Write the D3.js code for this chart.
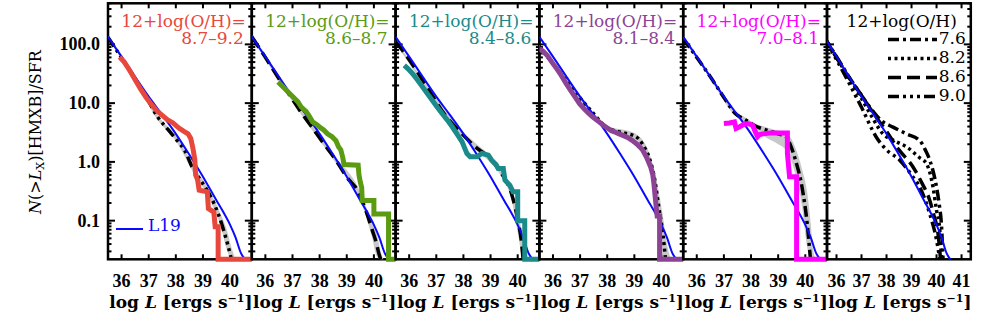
<!DOCTYPE html>
<html>
<head>
<meta charset="utf-8">
<script src="https://cdnjs.cloudflare.com/ajax/libs/d3/7.8.5/d3.min.js"></script>
<style>
body { margin: 0; background: #fff; }
svg { display: block; }
</style>
</head>
<body>
<svg id="chart" width="981" height="319"></svg>
<script>
// metallicity bins, one per panel (last panel = models only)
var binLabels = ["8.7\u20139.2", "8.6\u20138.7", "8.4\u20138.6", "8.1\u20138.4", "7.0\u20138.1"];
var binColors = ["#e8473b", "#5a9b11", "#1a8b8a", "#8c4396", "#ff00ff"];
var binModel = ["9.0", "8.6", "8.6", "8.2", "7.6"];
var legendZ = ["7.6", "8.2", "8.6", "9.0"];
var xTicks = [36, 37, 38, 39, 40];
var xTicksLast = [36, 37, 38, 39, 40, 41];
var yTicks = [0.1, 1, 10, 100];

// L19 reference XLF  [log L, N(>L)/SFR]
var l19 = [[35.5, 135], [36.0, 62], [36.5, 28], [37.0, 12.9], [37.5, 6.3], [38.0, 3.0], [38.5, 1.32],
    [39.0, 0.56], [39.5, 0.22], [39.75, 0.14], [40.0, 0.085], [40.2, 0.052], [40.4, 0.028], [40.55, 0.016]];

// observed cumulative XLFs (histogram outline vertices), 0 = dropped to the floor
var obs1 = [[35.93, 61], [36.1, 50], [36.3, 36], [36.5, 25], [36.7, 17.4], [36.9, 12.6], [37.1, 9.5], [37.3, 7.4],
    [37.5, 6.2], [37.7, 5.2], [37.9, 4.6], [38.1, 3.8], [38.3, 3.3], [38.45, 3.0], [38.55, 2.5], [38.62, 1.8],
    [38.7, 1.1], [38.73, 0.6], [38.8, 0.5], [38.86, 0.33], [39.16, 0.31], [39.2, 0.16], [39.4, 0.14],
    [39.45, 0.079], [39.56, 0.079], [39.56, 0], [41.5, 0]];
var obs2 = [[36.47, 23], [36.6, 20], [36.75, 17], [36.9, 14.5], [37.05, 12.3], [37.2, 10.5], [37.32, 8.6], [37.5, 7.2],
    [37.6, 6.2], [37.74, 4.8], [37.9, 4.3], [38.0, 3.9], [38.15, 3.5], [38.29, 3.0], [38.45, 2.7], [38.6, 2.3],
    [38.7, 1.8], [38.78, 1.6], [38.85, 1.2], [38.9, 0.9], [39.42, 0.88], [39.45, 0.6], [39.5, 0.45], [39.55, 0.37],
    [39.57, 0.22], [40.0, 0.22], [40.0, 0.13], [40.54, 0.13], [40.54, 0], [41.5, 0]];
var obs3 = [[35.82, 44], [35.97, 38], [36.12, 32], [36.3, 25], [36.49, 19], [36.67, 14.5], [36.85, 11.2], [37.03, 8.6],
    [37.22, 6.6], [37.4, 5.2], [37.58, 4.0], [37.76, 3.0], [37.95, 2.2], [38.05, 1.7], [38.13, 1.39], [38.25, 1.22],
    [38.5, 1.22], [38.68, 1.39], [38.92, 1.3], [39.04, 1.07], [39.2, 0.9], [39.28, 0.77], [39.47, 0.77], [39.53, 0.49],
    [39.71, 0.4], [39.83, 0.31], [40.0, 0.31], [40.0, 0.1], [40.26, 0.1], [40.26, 0], [41.5, 0]];
var obs4 = [[35.5, 85], [35.65, 75], [35.8, 64], [36.0, 47], [36.15, 38], [36.3, 30], [36.5, 21], [36.65, 16.5],
    [36.8, 13], [36.98, 9.8], [37.15, 8.0], [37.3, 6.8], [37.47, 5.8], [37.65, 5.0], [37.8, 4.4], [37.96, 3.9],
    [38.15, 3.4], [38.3, 3.2], [38.44, 3.0], [38.6, 2.8], [38.75, 2.6], [38.93, 2.3], [39.1, 2.0], [39.2, 1.8],
    [39.3, 1.6], [39.45, 1.2], [39.6, 0.82], [39.68, 0.6], [39.72, 0.43], [39.78, 0.22], [39.84, 0.12],
    [39.93, 0.12], [39.93, 0], [41.5, 0]];
var obs5 = [[37.0, 4.5], [37.2, 4.6], [37.39, 4.8], [37.45, 3.7], [37.6, 4.0], [37.72, 4.3], [37.88, 4.5], [38.06, 4.2],
    [38.15, 3.3], [38.24, 2.7], [38.3, 2.9], [38.42, 3.0], [38.7, 3.1], [39.34, 3.1], [39.34, 1.4], [39.42, 0.56],
    [39.68, 0.56], [39.68, 0], [41.5, 0]];

// model curves for each bin  [log L, N]
var model1 = [[35.5, 132], [36.0, 59], [36.5, 26], [37.0, 10.7], [37.32, 5.9], [37.7, 3.6], [38.05, 2.3], [38.35, 1.5],
    [38.6, 0.82], [38.9, 0.5], [39.15, 0.33], [39.4, 0.2], [39.65, 0.1], [39.8, 0.06], [39.9, 0.041], [40.05, 0.018]];
var model2 = [[35.5, 135], [36.0, 60], [36.5, 26], [37.0, 11.5], [37.26, 7.6], [37.7, 4.0], [38.1, 2.2], [38.6, 1.07],
    [39.0, 0.55], [39.46, 0.29], [39.7, 0.15], [39.94, 0.069], [40.1, 0.04], [40.18, 0.028], [40.25, 0.018]];
var model3 = [[35.5, 112], [36.0, 55], [36.73, 16.6], [37.3, 6.5], [37.95, 3.0], [38.44, 1.8], [38.93, 1.2],
    [39.41, 0.63], [39.77, 0.29], [40.01, 0.1], [40.13, 0.047], [40.2, 0.02]];
var model4 = [[35.5, 91], [36.0, 47], [36.5, 24], [36.98, 12.6], [37.5, 6.6], [37.96, 3.9], [38.5, 3.2], [39.05, 2.7],
    [39.3, 2.0], [39.54, 1.2], [39.75, 0.5], [39.9, 0.17], [40.05, 0.06], [40.15, 0.02]];
var model5 = [[35.5, 126], [36.0, 60], [36.5, 28], [37.0, 12.5], [37.4, 6.8], [37.82, 5.1], [38.2, 4.0], [38.55, 3.5],
    [39.0, 3.0], [39.28, 2.7], [39.5, 1.7], [39.64, 1.07], [39.88, 0.37], [40.07, 0.089], [40.19, 0.02]];

// model uncertainty bands  [log L, low, high]
var band1 = [[35.5, 125, 140], [36.5, 24, 28], [37.3, 5.4, 6.5], [38.05, 2.1, 2.6], [38.6, 0.72, 0.95],
    [39.15, 0.28, 0.38], [39.65, 0.08, 0.13], [39.9, 0.03, 0.065], [40.05, 0.012, 0.035], [40.2, 0.01, 0.015]];
var band2 = [[35.5, 125, 145], [36.5, 24, 28], [37.26, 7, 8.3], [38.1, 2.0, 2.45], [38.6, 0.95, 1.2],
    [39.46, 0.25, 0.34], [39.94, 0.05, 0.09], [40.1, 0.025, 0.06], [40.25, 0.01, 0.03], [40.35, 0.01, 0.015]];
var band3 = [[35.5, 105, 120], [36.73, 15.5, 18], [37.95, 2.7, 3.4], [38.44, 1.6, 2.1], [38.93, 1.05, 1.35],
    [39.41, 0.55, 0.72], [39.77, 0.23, 0.36], [40.01, 0.06, 0.14], [40.2, 0.01, 0.05], [40.35, 0.01, 0.015]];
var band4 = [[35.5, 85, 98], [36.5, 22, 26], [36.98, 11.5, 13.8], [37.96, 3.6, 4.3], [39.05, 2.4, 3.0],
    [39.54, 1.0, 1.45], [39.75, 0.35, 0.7], [39.9, 0.09, 0.3], [40.05, 0.025, 0.12], [40.2, 0.01, 0.04], [40.35, 0.01, 0.015]];
var band5 = [[35.5, 118, 134], [36.5, 26, 30], [37.4, 6.2, 7.4], [37.82, 4.5, 5.6], [38.2, 3.3, 4.4], [38.55, 2.6, 3.9],
    [39.0, 2.0, 3.4], [39.28, 1.6, 3.2], [39.5, 1.0, 2.4], [39.64, 0.6, 1.7], [39.88, 0.17, 0.75], [40.07, 0.035, 0.3],
    [40.2, 0.01, 0.09], [40.3, 0.01, 0.03], [40.4, 0.01, 0.015]];

// last panel: models at fixed metallicity
var zModel76 = [[35.5, 135], [36.0, 62], [36.5, 28], [37.0, 13.5], [37.33, 8.6], [37.8, 5.0], [38.26, 3.9], [38.8, 3.0],
    [39.33, 2.3], [39.55, 1.6], [39.73, 1.07], [40.0, 0.37], [40.1, 0.2], [40.2, 0.079], [40.26, 0.02]];
var zModel82 = [[35.5, 135], [36.0, 60], [36.5, 27], [37.0, 12], [37.4, 6], [37.86, 3.0], [38.3, 2.3], [38.8, 1.8],
    [39.3, 1.2], [39.6, 0.93], [39.86, 0.37], [40.0, 0.15], [40.13, 0.069], [40.2, 0.02]];
var zModel86 = [[35.5, 135], [36.0, 60], [36.5, 27], [36.93, 15], [37.5, 6.5], [38.0, 3.3], [38.5, 1.6], [39.06, 0.82],
    [39.4, 0.45], [39.73, 0.22], [39.9, 0.12], [40.06, 0.06], [40.16, 0.02]];
var zModel90 = [[35.5, 130], [36.0, 55], [36.5, 22], [37.0, 8.5], [37.6, 2.6], [38.0, 1.6], [38.53, 1.07], [39.0, 0.6],
    [39.33, 0.37], [39.73, 0.13], [40.0, 0.047], [40.13, 0.02]];

var obsAll = [obs1, obs2, obs3, obs4, obs5];
var modelAll = [model1, model2, model3, model4, model5];
var bandAll = [band1, band2, band3, band4, band5];
var zModels = [zModel76, zModel82, zModel86, zModel90];

var dashes = {"7.6": "11,4,3,4", "8.2": "3,3.5", "8.6": "13,6", "9.0": "11,4,3,4,3,4,3,4"};
var blue = "#0a0aff";

var svg = d3.select("#chart");
var left0 = 108, panelW = 143.8, yTop = 3.3, yBot = 259.3;
var yMin = 0.022, yMax = 500;
var y = d3.scaleLog().domain([yMin, yMax]).range([yBot, yTop]);
var yc = function(v) { return y(Math.max(v, yMin)); };

var serif = "'Liberation Serif', serif";
var dvs = "'DejaVu Serif', serif";

// minor y tick values
var yMinor = [];
[0.01, 0.1, 1, 10, 100].forEach(function(d) {
    for (var k = 2; k <= 9; k++) {
        var v = k * d;
        if (v >= yMin && v <= yMax) yMinor.push(v);
    }
});

for (var i = 0; i < 6; i++) {
    var x0 = left0 + i * panelW, x1 = x0 + panelW;
    var last = i === 5;
    var x = d3.scaleLinear().domain(last ? [35.62, 41.37] : [35.5, 40.8]).range([x0, x1]);
    var g = svg.append("g");

    svg.append("clipPath").attr("id", "clip" + i)
        .append("rect").attr("x", x0).attr("y", yTop).attr("width", panelW).attr("height", yBot - yTop + 3);

    // frame and ticks
    g.append("rect").attr("x", x0).attr("y", yTop).attr("width", panelW).attr("height", yBot - yTop)
        .attr("fill", "none").attr("stroke", "#000").attr("stroke-width", 2.5);
    var ticks = last ? xTicksLast : xTicks;
    ticks.forEach(function(t) {
        g.append("line").attr("x1", x(t)).attr("x2", x(t)).attr("y1", yBot).attr("y2", yBot - 5)
            .attr("stroke", "#000").attr("stroke-width", 2);
        g.append("line").attr("x1", x(t)).attr("x2", x(t)).attr("y1", yTop).attr("y2", yTop + 5)
            .attr("stroke", "#000").attr("stroke-width", 2);
    });
    yTicks.concat(yMinor).forEach(function(v) {
        var len = yTicks.indexOf(v) >= 0 ? 7 : 3.5;
        g.append("line").attr("x1", x0).attr("x2", x0 + len).attr("y1", y(v)).attr("y2", y(v))
            .attr("stroke", "#000").attr("stroke-width", 2);
        g.append("line").attr("x1", x1).attr("x2", x1 - len).attr("y1", y(v)).attr("y2", y(v))
            .attr("stroke", "#000").attr("stroke-width", 2);
    });

    g.selectAll(".xt").data(ticks).enter().append("text")
        .attr("x", function(d) { return x(d); }).attr("y", 286.7)
        .attr("text-anchor", "middle")
        .style("font-family", serif).style("font-weight", "bold").style("font-size", "18px")
        .text(function(d) { return d; });

    var xt = g.append("text").attr("x", x0 + panelW / 2 + 1).attr("y", 308)
        .attr("text-anchor", "middle")
        .style("font-family", dvs).style("font-weight", "bold").style("font-size", "17px");
    xt.append("tspan").text("log ");
    xt.append("tspan").style("font-style", "italic").text("L");
    xt.append("tspan").text(" [ergs s");
    xt.append("tspan").attr("dy", -6).style("font-size", "11px").text("\u22121");
    xt.append("tspan").attr("dy", 6).text("]");

    var pg = g.append("g").attr("clip-path", "url(#clip" + i + ")");
    var line = d3.line().x(function(d) { return x(d[0]); }).y(function(d) { return yc(d[1]); })
        .curve(d3.curveMonotoneX);

    if (!last) {
        var area = d3.area().x(function(d) { return x(d[0]); })
            .y0(function(d) { return yc(d[1]); }).y1(function(d) { return yc(d[2]); })
            .curve(d3.curveMonotoneX);
        pg.append("path").attr("d", area(bandAll[i])).attr("fill", "#c8c8c8");
        pg.append("path").attr("d", line(modelAll[i])).attr("fill", "none")
            .attr("stroke", "#000").attr("stroke-width", 3.5)
            .attr("stroke-dasharray", dashes[binModel[i]]);
        pg.append("path").attr("d", line(l19)).attr("fill", "none")
            .attr("stroke", blue).attr("stroke-width", 2);
        var outline = d3.line().x(function(d) { return x(d[0]); }).y(function(d) { return yc(d[1]); });
        pg.append("path").attr("d", outline(obsAll[i])).attr("fill", "none")
            .attr("stroke", binColors[i]).attr("stroke-width", 5);

        g.append("text").attr("x", x1 - 6).attr("y", 26.5).attr("text-anchor", "end")
            .attr("fill", binColors[i])
            .style("font-family", dvs).style("font-size", "17px").text("12+log(O/H)=");
        g.append("text").attr("x", x1 - 8).attr("y", 44).attr("text-anchor", "end")
            .attr("fill", binColors[i])
            .style("font-family", dvs).style("font-size", "17px").text(binLabels[i]);
    } else {
        zModels.forEach(function(m, k) {
            pg.append("path").attr("d", line(m)).attr("fill", "none")
                .attr("stroke", "#000").attr("stroke-width", 3.5)
                .attr("stroke-dasharray", dashes[legendZ[k]]);
        });
        pg.append("path").attr("d", line(l19)).attr("fill", "none")
            .attr("stroke", blue).attr("stroke-width", 2);

        g.append("text").attr("x", x1 - 14).attr("y", 26.5).attr("text-anchor", "end")
            .style("font-family", dvs).style("font-size", "17px").text("12+log(O/H)");
        legendZ.forEach(function(z, k) {
            var by = 43.5 + k * 19;
            g.append("line").attr("x1", 888).attr("x2", 937).attr("y1", by - 4).attr("y2", by - 4)
                .attr("stroke", "#000").attr("stroke-width", 3.5).attr("stroke-dasharray", dashes[z]);
            g.append("text").attr("x", x1 - 5).attr("y", by).attr("text-anchor", "end")
                .style("font-family", dvs).style("font-size", "17px").text(z);
        });
    }

    if (i === 0) {
        g.selectAll(".yt").data(yTicks).enter().append("text")
            .attr("x", 100).attr("y", function(d) { return y(d) + 6; })
            .attr("text-anchor", "end")
            .style("font-family", serif).style("font-weight", "bold").style("font-size", "18px")
            .text(function(d) { return d3.format(".1f")(d); });

        // L19 legend
        g.append("line").attr("x1", 116).attr("x2", 143).attr("y1", 229).attr("y2", 229)
            .attr("stroke", blue).attr("stroke-width", 2);
        g.append("text").attr("x", 148).attr("y", 230.7).attr("fill", blue)
            .style("font-family", dvs).style("font-size", "17px").text("L19");
    }
}

// y axis title
var yt = svg.append("text").attr("transform", "translate(41,132) rotate(-90)")
    .attr("text-anchor", "middle")
    .style("font-family", dvs).style("font-size", "16px");
yt.append("tspan").style("font-style", "italic").text("N");
yt.append("tspan").text("(>");
yt.append("tspan").style("font-style", "italic").text("L");
yt.append("tspan").attr("dy", 3).style("font-size", "11px").text("X");
yt.append("tspan").attr("dy", -3).text(")[HMXB]/SFR");
</script>
</body>
</html>
